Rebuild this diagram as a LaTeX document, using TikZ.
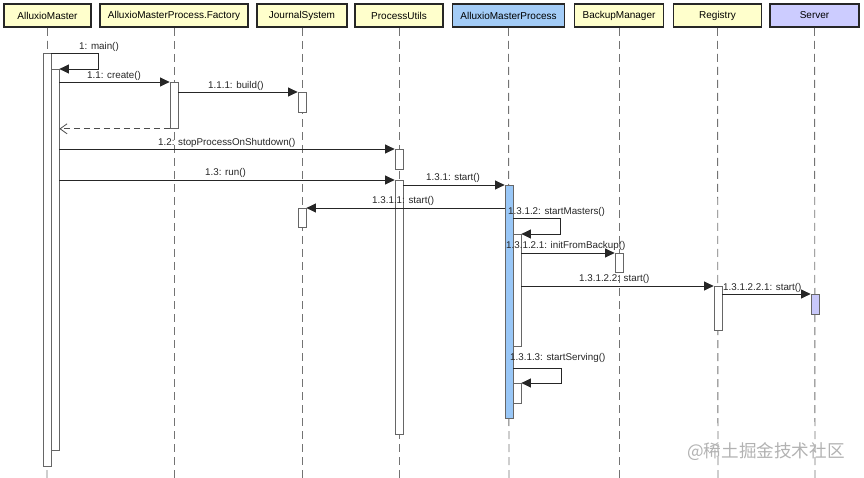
\documentclass[tikz,border=0pt]{standalone}
\usepackage{fontspec}
\setmainfont{Liberation Sans}
\newfontfamily\cjk{Noto Sans CJK SC}
\usetikzlibrary{arrows.meta}
\definecolor{hdryellow}{HTML}{FFFFCC}
\definecolor{hdrblue}{HTML}{A3CCF7}
\definecolor{hdrpurple}{HTML}{CCCCFF}
\definecolor{actblue}{HTML}{99C7F7}
\definecolor{actpurple}{HTML}{C8C8FA}
\tikzset{
  hdr/.style={draw=black!85, line width=1.2pt, fill=hdryellow, minimum height=23pt, inner sep=0pt, font=\fontsize{10}{12}\selectfont},
  life/.style={draw=black!55, line width=0.9pt, dash pattern=on 8pt off 5pt},
  act/.style={draw=black!60, line width=0.8pt, fill=white, minimum width=8pt, inner sep=0pt, anchor=north},
  msg/.style={draw=black!85, line width=0.8pt, -{Triangle[length=9.5pt,width=9pt]}},
  ret/.style={draw=black!70, line width=0.8pt, dash pattern=on 6pt off 4pt, -{Straight Barb[length=7pt,width=10pt]}},
  lbl/.style={font=\fontsize{9.8}{11}\selectfont, inner sep=0pt, anchor=west, text=black!85},
}
\begin{document}
\begin{tikzpicture}[x=1pt,y=-1pt]
\useasboundingbox (0,0) rectangle (864,478);
% headers
\node[hdr, minimum width=87pt]  (h1) at (47.5,15.5) {AlluxioMaster};
\node[hdr, minimum width=148pt] (h2) at (174,15.5) {AlluxioMasterProcess.Factory};
\node[hdr, minimum width=90pt]  (h3) at (302,15.5) {JournalSystem};
\node[hdr, minimum width=88pt]  (h4) at (399,15.5) {ProcessUtils};
\node[hdr, minimum width=112pt, fill=hdrblue] (h5) at (508.5,15.5) {AlluxioMasterProcess};
\node[hdr, minimum width=89pt]  (h6) at (619,15.5) {BackupManager};
\node[hdr, minimum width=88pt]  (h7) at (717.5,15.5) {Registry};
\node[hdr, minimum width=89pt, fill=hdrpurple] (h8) at (814.5,15.5) {Server};
% lifeline ends
\coordinate (e1) at (47,478);
\coordinate (e2) at (174,478);
\coordinate (e3) at (302,478);
\coordinate (e4) at (399,478);
\coordinate (e5) at (509,478);
\coordinate (e6) at (619,478);
\coordinate (e7) at (718,478);
\coordinate (e8) at (815,478);
\foreach \i in {1,...,8} {\draw[life] (h\i.south |- 0,28) -- (e\i);}
% activations
\node[act, minimum height=413pt] (am1) at (47,53) {};
\node[act, minimum height=381pt] (am2) at (55,69) {};
\node[act, minimum height=46pt] (fa) at (174,82) {};
\node[act, minimum height=20pt] (js1) at (302,92) {};
\node[act, minimum height=19pt] (js2) at (302,208) {};
\node[act, minimum height=20pt] (pu1) at (399,149) {};
\node[act, minimum height=254pt] (pu2) at (399,180) {};
\node[act, minimum height=233pt, fill=actblue] (amp1) at (509,185) {};
\node[act, minimum height=112pt] (amp2) at (517,234) {};
\node[act, minimum height=20pt] (amp3) at (517,383) {};
\node[act, minimum height=19pt] (bm) at (619,253) {};
\node[act, minimum height=44pt] (rg) at (718,286) {};
\node[act, minimum height=20pt, fill=actpurple] (sv) at (815,294) {};
% messages
\draw[msg] (am1.north east) -- ++(47,0) |- (am2.north east);
\draw[msg] (am2.east |- fa.north) -- (fa.north west);
\draw[msg] (fa.east |- js1.north) -- (js1.north west);
\draw[ret] (fa.south west) -- (am2.east |- fa.south);
\draw[msg] (am2.east |- pu1.north) -- (pu1.north west);
\draw[msg] (am2.east |- pu2.north) -- (pu2.north west);
\draw[msg] (pu2.east |- amp1.north) -- (amp1.north west);
\draw[msg] (amp1.west |- js2.north) -- (js2.north east);
\draw[msg] (amp1.east |- 0,218) -- ++(47,0) |- (amp2.north east);
\draw[msg] (amp2.east |- bm.north) -- (bm.north west);
\draw[msg] (amp2.east |- rg.north) -- (rg.north west);
\draw[msg] (rg.east |- sv.north) -- (sv.north west);
\draw[msg] (amp1.east |- 0,368) -- ++(48,0) |- (amp3.north east);
% labels
\node[lbl] (l1) at (79,47) {1: main()};
\node[lbl] (l2) at (87,76) {1.1: create()};
\node[lbl] (l3) at (208,86) {1.1.1: build()};
\node[lbl] (l4) at (158,143) {1.2: stopProcessOnShutdown()};
\node[lbl] (l5) at (205,173) {1.3: run()};
\node[lbl] (l6) at (426,178) {1.3.1: start()};
\node[lbl] (l7) at (372,201) {1.3.1.1: start()};
\node[lbl] (l8) at (508,212) {1.3.1.2: startMasters()};
\node[lbl] (l9) at (506,246) {1.3.1.2.1: initFromBackup()};
\node[lbl] (l10) at (579,279) {1.3.1.2.2: start()};
\node[lbl] (l11) at (723,288) {1.3.1.2.2.1: start()};
\node[lbl] (l12) at (510,358) {1.3.1.3: startServing()};
% watermark
\node[anchor=west, inner sep=0pt, text=black!30, font=\cjk\fontsize{17.6}{18}\selectfont] (wm) at (687,452) {@稀土掘金技术社区};
\end{tikzpicture}
\end{document}
